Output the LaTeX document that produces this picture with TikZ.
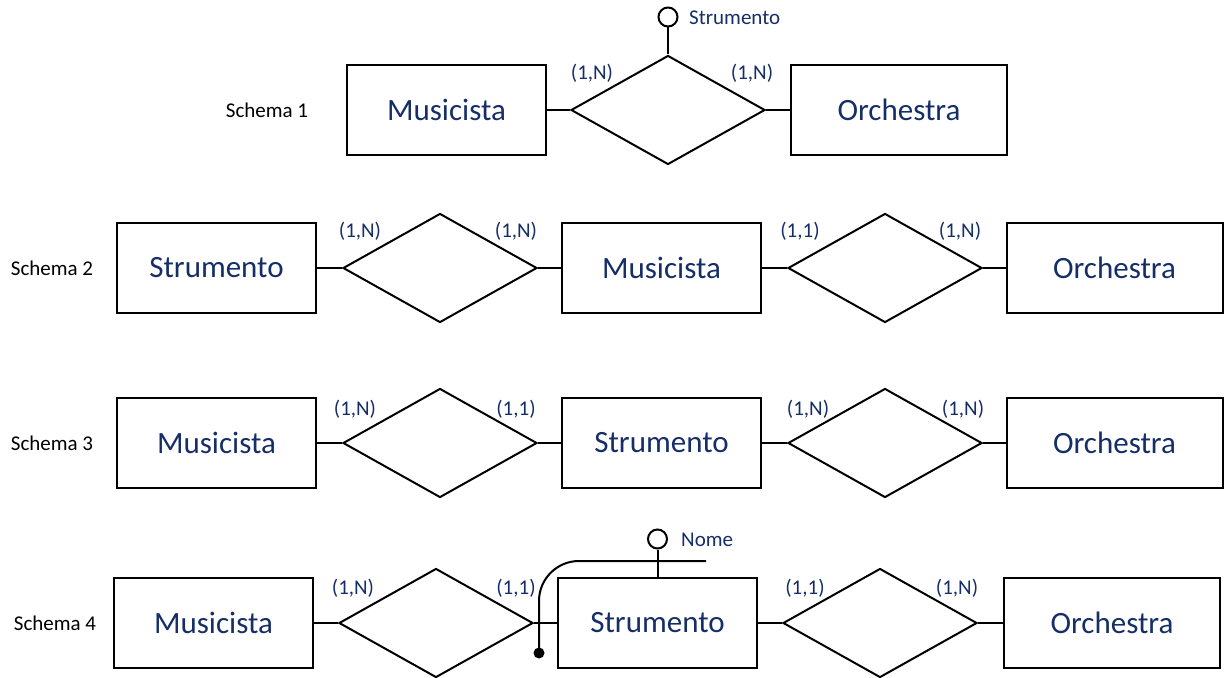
\documentclass[tikz,border=0pt]{standalone}
\usepackage{fontspec}
\setmainfont{Carlito}
\usetikzlibrary{shapes.geometric}
\definecolor{erblue}{RGB}{22,46,104}
\tikzset{
  ent/.style={draw, line width=2pt, minimum width=199pt, minimum height=90pt, inner sep=0pt,
    text=erblue, font=\fontsize{31}{32}\selectfont},
  entw/.style={ent, minimum width=216pt},
  rel/.style={draw, diamond, line width=2pt, minimum width=194pt, minimum height=109pt, inner sep=0pt},
  card/.style={text=erblue, font=\fontsize{21}{22}\selectfont, inner sep=0pt},
  lab/.style={text=black, font=\fontsize{21}{22}\selectfont, inner sep=0pt},
  attr/.style={draw, circle, line width=2pt, minimum size=19pt, inner sep=0pt},
  conn/.style={line width=2pt},
}
\begin{document}
\begin{tikzpicture}[x=1pt,y=-1pt]
\useasboundingbox (0,0) rectangle (1225,677);
% Schema 1
\node[lab] (l1) at (267,110) {Schema 1};
\node[ent] (m1) at (446.5,110) {Musicista};
\node[rel] (d1) at (668,110) {};
\node[entw] (o1) at (899,110) {Orchestra};
\node[attr] (a1) at (668,17) {};
\node[card, anchor=west] (a1t) at (689,18) {Strumento};
\draw[conn] (m1.east) -- (d1.west);
\draw[conn] (d1.east) -- (o1.west);
\draw[conn] (d1.north) -- (a1.south);
\node[card] (c11) at (592,73) {(1,N)};
\node[card] (c12) at (752,73) {(1,N)};
% Schema 2
\node[lab] (l2) at (52,268) {Schema 2};
\node[ent] (s2) at (216.5,268) {Strumento};
\node[rel] (d21) at (440,268) {};
\node[ent] (m2) at (661.5,268) {Musicista};
\node[rel] (d22) at (885,268) {};
\node[entw] (o2) at (1114.5,268) {Orchestra};
\draw[conn] (s2.east) -- (d21.west);
\draw[conn] (d21.east) -- (m2.west);
\draw[conn] (m2.east) -- (d22.west);
\draw[conn] (d22.east) -- (o2.west);
\node[card] (c21) at (360,231) {(1,N)};
\node[card] (c22) at (516,231) {(1,N)};
\node[card] (c23) at (800,231) {(1,1)};
\node[card] (c24) at (960,231) {(1,N)};
% Schema 3
\node[lab] (l3) at (52,443) {Schema 3};
\node[ent] (m3) at (216.5,443) {Musicista};
\node[rel] (d31) at (440,443) {};
\node[ent] (s3) at (661.5,443) {Strumento};
\node[rel] (d32) at (885,443) {};
\node[entw] (o3) at (1114.5,443) {Orchestra};
\draw[conn] (m3.east) -- (d31.west);
\draw[conn] (d31.east) -- (s3.west);
\draw[conn] (s3.east) -- (d32.west);
\draw[conn] (d32.east) -- (o3.west);
\node[card] (c31) at (355,409) {(1,N)};
\node[card] (c32) at (516,409) {(1,1)};
\node[card] (c33) at (808,409) {(1,N)};
\node[card] (c34) at (963,409) {(1,N)};
% Schema 4
\node[lab] (l4) at (55,623) {Schema 4};
\node[ent] (m4) at (213.5,623) {Musicista};
\node[rel] (d41) at (436,623) {};
\node[ent] (s4) at (657.5,623) {Strumento};
\node[rel] (d42) at (880,623) {};
\node[entw] (o4) at (1112,623) {Orchestra};
\draw[conn] (m4.east) -- (d41.west);
\draw[conn] (d41.east) -- (s4.west);
\draw[conn] (s4.east) -- (d42.west);
\draw[conn] (d42.east) -- (o4.west);
\node[card] (c41) at (353,588) {(1,N)};
\node[card] (c42) at (516,588) {(1,1)};
\node[card] (c43) at (805,588) {(1,1)};
\node[card] (c44) at (957,588) {(1,N)};
\node[attr] (a4) at (657.5,539) {};
\node[card, anchor=west] (a4t) at (681,540) {Nome};
\draw[conn] (s4.north) -- (a4.south);
\coordinate (idd) at (539,653);
\coordinate (idc) at (539,561);
\coordinate (ide) at (706,561);
\draw[conn, rounded corners=40pt] (idd) -- (idc) -- (ide);
\fill (idd) circle (5.5pt);
\end{tikzpicture}
\end{document}
